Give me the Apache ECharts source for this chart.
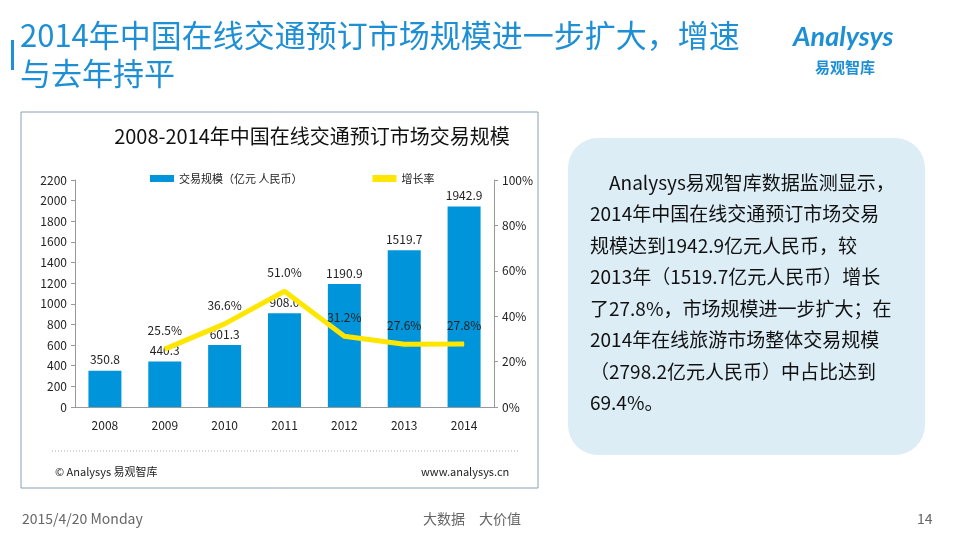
<!DOCTYPE html>
<html><head><meta charset="utf-8">
<script src="https://cdn.jsdelivr.net/npm/echarts@6/dist/echarts.min.js"></script>
<style>html,body{margin:0;padding:0;background:#fff}#c{width:957px;height:539px}</style>
</head><body><div id="c"></div>
<script>
const years=['2008','2009','2010','2011','2012','2013','2014'];
const scale=[350.8,440.3,601.3,908.0,1190.9,1519.7,1942.9];
const growth=[null,25.5,36.6,51.0,31.2,27.6,27.8];
const F='"Noto Sans CJK SC", sans-serif';
const para=['　Analysys易观智库数据监测显示，','2014年中国在线交通预订市场交易','规模达到1942.9亿元人民币，较','2013年（1519.7亿元人民币）增长','了27.8%，市场规模进一步扩大；在','2014年在线旅游市场整体交易规模','（2798.2亿元人民币）中占比达到','69.4%。'];
const ch=echarts.init(document.getElementById('c'));
ch.setOption({
 animation:false,
 textStyle:{fontFamily:F},
 title:{text:'2008-2014年中国在线交通预订市场交易规模',left:307,top:121,textAlign:'center',textStyle:{fontSize:20,fontWeight:'normal',color:'#111',fontFamily:F}},
 legend:{top:168,left:145,itemGap:70,itemWidth:24,itemHeight:7,textStyle:{fontSize:11,color:'#222'},
   data:[{name:'交易规模（亿元 人民币）',icon:'rect'},{name:'增长率',icon:'rect',itemStyle:{color:'#FFE600'}}]},
 grid:{left:75,right:463,top:180,bottom:132,containLabel:false},
 xAxis:{type:'category',data:years,axisTick:{show:false},axisLine:{lineStyle:{color:'#999'}},axisLabel:{fontSize:12,color:'#222',margin:12}},
 yAxis:[{type:'value',min:0,max:2200,interval:200,splitLine:{show:false},axisLine:{show:true,lineStyle:{color:'#999'}},axisTick:{show:true,length:4,lineStyle:{color:'#999'}},axisLabel:{fontSize:12,color:'#222',formatter:v=>String(v)}},
  {type:'value',min:0,max:100,interval:20,splitLine:{show:false},axisLine:{show:true,lineStyle:{color:'#999'}},axisTick:{show:true,length:4,lineStyle:{color:'#999'}},axisLabel:{formatter:'{value}%',fontSize:12,color:'#222'}}],
 series:[
  {name:'交易规模（亿元 人民币）',type:'bar',data:scale,barWidth:33,itemStyle:{color:'#0095DA'},label:{show:true,position:'top',fontSize:12,color:'#222',formatter:p=>p.value.toFixed(1)}},
  {name:'增长率',type:'line',yAxisIndex:1,data:growth,showSymbol:true,symbol:'circle',symbolSize:1,z:5,lineStyle:{color:'#FFE600',width:5},itemStyle:{color:'#FFE600'},labelLayout:{hideOverlap:false},label:{show:true,position:'top',distance:12,fontSize:12,color:'#222',formatter:p=>p.value.toFixed(1)+'%'}}
 ],
 graphic:[
  {type:'rect',shape:{x:11,y:40,width:3,height:30},style:{fill:'#1E90D8'}},
  {type:'text',left:20,top:16,style:{text:'2014年中国在线交通预订市场规模进一步扩大，增速\n与去年持平',font:'31px '+F,fill:'#1E8FD5',lineHeight:38}},
  {type:'text',left:793,top:24,style:{text:'Analysys',font:'italic bold 27px Lato, sans-serif',fill:'#1E8FD5'}},
  {type:'text',left:815,top:60,style:{text:'易观智库',font:'bold 15px '+F,fill:'#1E8FD5'}},
  {type:'rect',shape:{x:21,y:112,width:517,height:376},style:{fill:'none',stroke:'#8aa0b0',lineWidth:1},z:-1},
  {type:'line',shape:{x1:52,y1:451,x2:518,y2:451},style:{stroke:'#aaa',lineDash:[1,2]}},
  {type:'text',left:55,top:466,style:{text:'© Analysys 易观智库',font:'11px '+F,fill:'#222'}},
  {type:'text',left:421,top:466,style:{text:'www.analysys.cn',font:'11px '+F,fill:'#222'}},
  {type:'rect',shape:{x:568,y:138,width:357,height:317,r:30},style:{fill:'#DCEDF6'},z:-1},
  {type:'text',left:590,top:167,style:{text:para.join('\n'),font:'19px '+F,fill:'#111',lineHeight:31.5}},
  {type:'text',left:22,top:512,style:{text:'2015/4/20 Monday',font:'14px '+F,fill:'#666'}},
  {type:'text',left:423,top:512,style:{text:'大数据　大价值',font:'14px '+F,fill:'#666'}},
  {type:'text',left:917,top:512,style:{text:'14',font:'14px '+F,fill:'#666'}}
 ]
});
</script></body></html>
